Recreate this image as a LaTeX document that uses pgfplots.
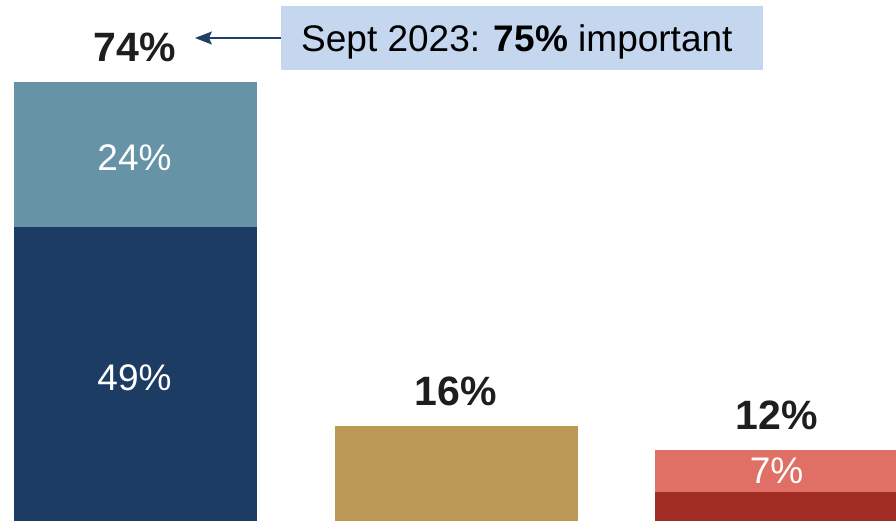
\documentclass[border=0pt]{standalone}
\usepackage{pgfplots}
\pgfplotsset{compat=1.18}
\usetikzlibrary{arrows.meta}
\usepackage{fontspec}
\setmainfont{Liberation Sans}
\definecolor{navy}{HTML}{1D3C63}
\definecolor{teal2}{HTML}{6694A6}
\definecolor{gold}{HTML}{BD9957}
\definecolor{lred}{HTML}{E07065}
\definecolor{dred}{HTML}{A12C23}
\definecolor{boxc}{HTML}{C4D7EF}
\definecolor{arrowc}{HTML}{1F3F66}
\definecolor{txt}{HTML}{1E1E1E}
\newcommand{\bigfont}{\fontsize{41}{41}\selectfont\bfseries}
\newcommand{\midfont}{\fontsize{37}{37}\selectfont}
\begin{document}
\begin{tikzpicture}
\begin{axis}[scale only axis, width=896pt, height=521pt,
  xmin=0, xmax=896, ymin=0, ymax=86.833,
  axis lines=none, ticks=none, ybar, bar width=243,
  every axis plot/.append style={draw=none, bar shift=0pt}]
\draw[draw=none] (rel axis cs:0,0) rectangle (rel axis cs:1,1);
% cumulative heights: top segment drawn first, bottom on top of it
\addplot[fill=teal2] coordinates {(135,73.2)};
\addplot[fill=navy] coordinates {(135,49)};
\addplot[fill=gold] coordinates {(456,15.8)};
\addplot[fill=lred] coordinates {(776.5,11.8)};
\addplot[fill=dred] coordinates {(776.5,4.8)};
\node[anchor=base, inner sep=0, text=txt] at (axis cs:134.5,76.5) {\bigfont 74\%};
\node[anchor=base, inner sep=0, text=txt] at (axis cs:456,19.33) {\bigfont 16\%};
\node[anchor=base, inner sep=0, text=txt] at (axis cs:777,15.33) {\bigfont 12\%};
\node[anchor=base, inner sep=0, text=white] at (axis cs:134.5,58.4) {\midfont 24\%};
\node[anchor=base, inner sep=0, text=white] at (axis cs:134.5,21.75) {\midfont 49\%};
\node[anchor=base, inner sep=0, text=white] at (axis cs:776.5,6.17) {\midfont 7\%};
\fill[boxc] (axis cs:281,75.17) rectangle (axis cs:763,85.83);
\node[anchor=base west, inner sep=0, text=black] at (axis cs:301,78.17) {\midfont Sept 2023: \textbf{75\%} important};
\draw[arrowc, line width=1.8pt] (axis cs:281,80.5) -- (axis cs:208,80.5);
\fill[arrowc] (axis cs:195,80.5) -- (axis cs:212,81.6) -- (axis cs:209,80.5) -- (axis cs:212,79.4) -- cycle;
\end{axis}
\end{tikzpicture}
\end{document}
